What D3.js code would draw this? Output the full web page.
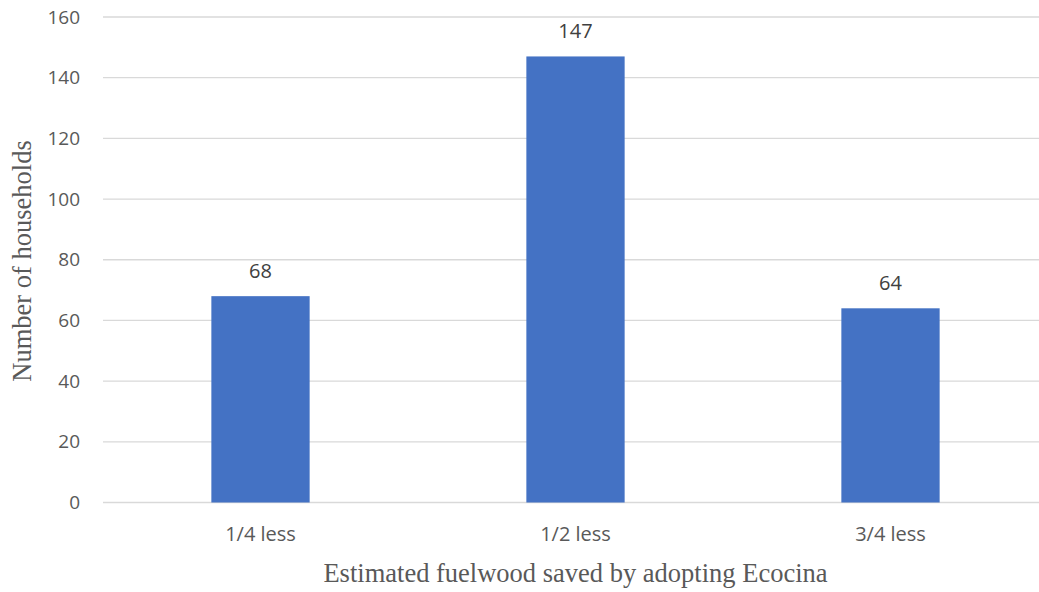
<!DOCTYPE html>
<html>
<head>
<meta charset="utf-8">
<script src="https://cdn.jsdelivr.net/npm/d3@7"></script>
<style>
  html, body { margin: 0; padding: 0; background: #fff; overflow: hidden; }
  svg { display: block; }
</style>
</head>
<body>
<svg id="chart" width="1039" height="592"></svg>
<script>
// Households by estimated fuelwood saving
const categories = ["1/4 less", "1/2 less", "3/4 less"];
const households = [68, 147, 64];
const yTicks = [0, 20, 40, 60, 80, 100, 120, 140, 160];

const svg = d3.select("#chart");
const plotLeft = 103, plotRight = 1048, plotTop = 17, plotBottom = 502.5;

const x = d3.scaleBand().domain(categories).range([plotLeft, plotRight]).paddingInner(0.688).paddingOuter(0.344);
const y = d3.scaleLinear().domain([0, 160]).range([plotBottom, plotTop]);

const sansFont = "'Open Sans', 'Liberation Sans', sans-serif";
const serifFont = "'Liberation Serif', 'DejaVu Serif', serif";

// horizontal gridlines
svg.append("g")
  .selectAll("line")
  .data(yTicks)
  .join("line")
  .attr("x1", plotLeft).attr("x2", plotRight)
  .attr("y1", d => y(d)).attr("y2", d => y(d))
  .attr("stroke", "#d9d9d9")
  .attr("stroke-width", 1.3);

// y axis labels
const yAxis = svg.append("g")
  .attr("transform", `translate(${plotLeft - 23},0)`)
  .call(d3.axisLeft(y).tickValues(yTicks).tickSize(0).tickPadding(0));
yAxis.select(".domain").remove();
yAxis.selectAll("text")
  .attr("fill", "#595959")
  .style("font-family", sansFont)
  .style("font-size", "19px");

// bars
svg.append("g")
  .selectAll("rect")
  .data(categories)
  .join("rect")
  .attr("x", d => x(d))
  .attr("width", x.bandwidth())
  .attr("y", (d, i) => y(households[i]))
  .attr("height", (d, i) => y(0) - y(households[i]))
  .attr("fill", "#4472c4");

// value labels
svg.append("g")
  .selectAll("text")
  .data(categories)
  .join("text")
  .attr("x", d => x(d) + x.bandwidth() / 2)
  .attr("y", (d, i) => y(households[i]) - 18.5)
  .attr("text-anchor", "middle")
  .attr("fill", "#404040")
  .style("font-family", sansFont)
  .style("font-size", "20px")
  .text((d, i) => households[i]);

// x axis labels
const xAxis = svg.append("g")
  .attr("transform", `translate(0,${plotBottom})`)
  .call(d3.axisBottom(x).tickSize(0).tickPadding(0));
xAxis.select(".domain").remove();
xAxis.selectAll("text")
  .attr("fill", "#595959")
  .attr("y", 38.5)
  .attr("dy", 0)
  .style("font-family", sansFont)
  .style("font-size", "20px");

// axis titles
svg.append("text")
  .attr("x", (plotLeft + plotRight) / 2)
  .attr("y", 582)
  .attr("text-anchor", "middle")
  .attr("fill", "#595959")
  .style("font-family", serifFont)
  .style("font-size", "26.5px")
  .text("Estimated fuelwood saved by adopting Ecocina");

svg.append("text")
  .attr("transform", `translate(31,261) rotate(-90)`)
  .attr("text-anchor", "middle")
  .attr("fill", "#595959")
  .style("font-family", serifFont)
  .style("font-size", "26.5px")
  .text("Number of households");
</script>
</body>
</html>
